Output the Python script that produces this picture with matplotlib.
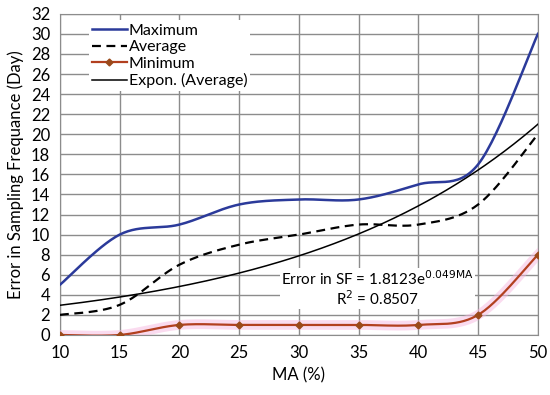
import numpy as np
import matplotlib.pyplot as plt

plt.rcParams['font.family'] = ['Lato', 'DejaVu Sans']

ma = [10, 15, 20, 25, 30, 35, 40, 45, 50]
maximum = [5, 10, 11, 13, 13.5, 13.5, 15, 17, 30]
average = [2, 3, 7, 9, 10, 11, 11, 13, 20]
minimum = [0, 0, 1, 1, 1, 1, 1, 2, 8]
# displayed exponential trend of the average
fit_a, fit_b = 1.8123, 0.049


def smooth(x, y, n=30):
    # Excel-like smoothed line: cubic bezier segments through the points
    x = np.asarray(x, float)
    y = np.asarray(y, float)
    px = np.concatenate([[x[0]], x, [x[-1]]])
    py = np.concatenate([[y[0]], y, [y[-1]]])
    xs, ys = [], []
    t = np.linspace(0, 1, n)
    for i in range(1, len(px) - 2):
        p0 = np.array([px[i], py[i]])
        p3 = np.array([px[i + 1], py[i + 1]])
        c1 = p0 + (np.array([px[i + 1], py[i + 1]]) - np.array([px[i - 1], py[i - 1]])) / 6
        c2 = p3 - (np.array([px[i + 2], py[i + 2]]) - np.array([px[i], py[i]])) / 6
        pts = ((1 - t)[:, None] ** 3 * p0 + 3 * ((1 - t) ** 2 * t)[:, None] * c1
               + 3 * ((1 - t) * t ** 2)[:, None] * c2 + (t ** 3)[:, None] * p3)
        xs.extend(pts[:, 0])
        ys.extend(pts[:, 1])
    return xs, ys


fig = plt.figure(figsize=(5.5, 3.95), dpi=100)
ax = fig.add_axes([0.109, 0.152, 0.869, 0.813])

xs, ys = smooth(ma, maximum)
ax.plot(xs, ys, color='#2B3A9A', lw=1.8, label='Maximum', zorder=4)
xs, ys = smooth(ma, average)
ax.plot(xs, ys, color='black', lw=1.6, ls=(0, (4, 2.5)), label='Average', zorder=4)
xs, ys = smooth(ma, minimum)
ax.plot(xs, ys, color='#F7B8E0', lw=7, alpha=0.5, zorder=3)
ax.plot(xs, ys, color='#B2401F', lw=1.6, zorder=4)
ax.plot(ma, minimum, ls='none', marker='D', ms=3.5, color='#9A4A1A', zorder=5)
ax.plot([], [], color='#B2401F', lw=1.6, marker='D', ms=3.5, mfc='#9A4A1A',
        mec='#9A4A1A', label='Minimum')
xt = np.linspace(ma[0], ma[-1], 200)
ax.plot(xt, fit_a * np.exp(fit_b * xt), color='black', lw=1.1,
        label='Expon. (Average)', zorder=4)

ax.text(36.6, 4.6, 'Error in SF = 1.8123e$^{0.049\\mathrm{MA}}$\nR$^2$ = 0.8507',
        ha='center', va='center', fontsize=11, linespacing=1.05,
        bbox=dict(facecolor='white', edgecolor='none', pad=1), zorder=3.5)

ax.set_xlim(10, 50)
ax.set_ylim(0, 32)
ax.set_xticks(ma)
ax.set_yticks(range(0, 33, 2))
ax.grid(True, color='#8C8C8C', lw=1)
ax.set_axisbelow(True)
for s in ax.spines.values():
    s.set_color('#8C8C8C')
ax.tick_params(length=0, labelsize=12, pad=7)
ax.set_xlabel('MA (%)', fontsize=12, labelpad=5)
ax.set_ylabel('Error in Sampling Frequance (Day)', fontsize=12, labelpad=5)

leg = ax.legend(loc='upper left', bbox_to_anchor=(0.06, 0.98), fontsize=11.5,
                frameon=True, facecolor='white', edgecolor='none', framealpha=1,
                handlelength=2.2, handletextpad=0.1, labelspacing=0.15,
                borderpad=0.2, borderaxespad=0)

fig.savefig('out.png', dpi=100)
